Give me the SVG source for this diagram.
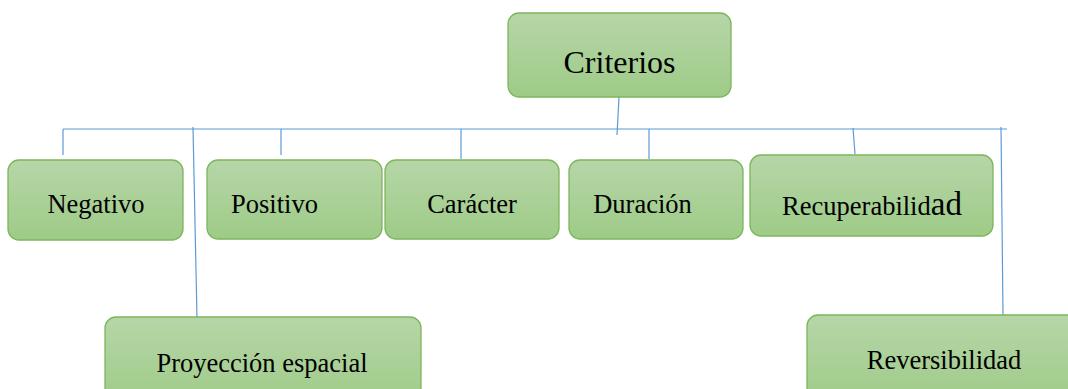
<svg xmlns="http://www.w3.org/2000/svg" width="1068" height="389" viewBox="0 0 1068 389">
<defs>
<linearGradient id="g" x1="0" y1="0" x2="0" y2="1">
<stop offset="0" stop-color="#b6d6a8"/>
<stop offset="1" stop-color="#9ecb87"/>
</linearGradient>
<style>
.box{fill:url(#g);stroke:#7db65c;stroke-width:1.3}
.t{font-family:"Liberation Serif","Times New Roman",serif;font-size:26.5px;fill:#000}
.c{stroke:#5b9bd5;stroke-width:1.2;fill:none}
</style>
</defs>
<rect width="1068" height="389" fill="#fff"/>
<g id="connectors">
<line class="c" x1="619" y1="97" x2="617" y2="135"/>
<line class="c" x1="63" y1="129" x2="1007" y2="129"/>
<line class="c" x1="63" y1="129" x2="63" y2="155"/>
<line class="c" x1="193" y1="127" x2="197" y2="318"/>
<line class="c" x1="281" y1="129" x2="281" y2="155"/>
<line class="c" x1="461" y1="129" x2="461" y2="159"/>
<line class="c" x1="649" y1="129" x2="649" y2="159"/>
<line class="c" x1="853" y1="128" x2="855" y2="154"/>
<line class="c" x1="1001" y1="127" x2="1003" y2="315"/>
</g>
<g id="criterios">
<rect class="box" x="508" y="13" width="223" height="84" rx="11"/>
<text class="t" x="619.5" y="73" text-anchor="middle" style="font-size:32px">Criterios</text>
</g>
<g id="negativo">
<rect class="box" x="8" y="160" width="175" height="80" rx="11"/>
<text class="t" x="96" y="213" text-anchor="middle">Negativo</text>
</g>
<g id="positivo">
<rect class="box" x="207" y="160" width="175" height="79" rx="11"/>
<text class="t" x="274.5" y="213" text-anchor="middle">Positivo</text>
</g>
<g id="caracter">
<rect class="box" x="385" y="160" width="174" height="79" rx="11"/>
<text class="t" x="472" y="213" text-anchor="middle">Carácter</text>
</g>
<g id="duracion">
<rect class="box" x="569" y="160" width="174" height="79" rx="11"/>
<text class="t" x="642.5" y="213" text-anchor="middle">Duración</text>
</g>
<g id="recuperabilidad">
<rect class="box" x="750" y="155" width="243" height="81" rx="11"/>
<text class="t" x="872" y="215" text-anchor="middle">Recuperabilid<tspan style="font-size:33px">ad</tspan></text>
</g>
<g id="proyeccion">
<rect class="box" x="105" y="317" width="316" height="90" rx="11"/>
<text class="t" x="262" y="372" text-anchor="middle">Proyección espacial</text>
</g>
<g id="reversibilidad">
<rect class="box" x="807" y="315" width="274" height="90" rx="11"/>
<text class="t" x="944" y="369" text-anchor="middle">Reversibilidad</text>
</g>
</svg>
